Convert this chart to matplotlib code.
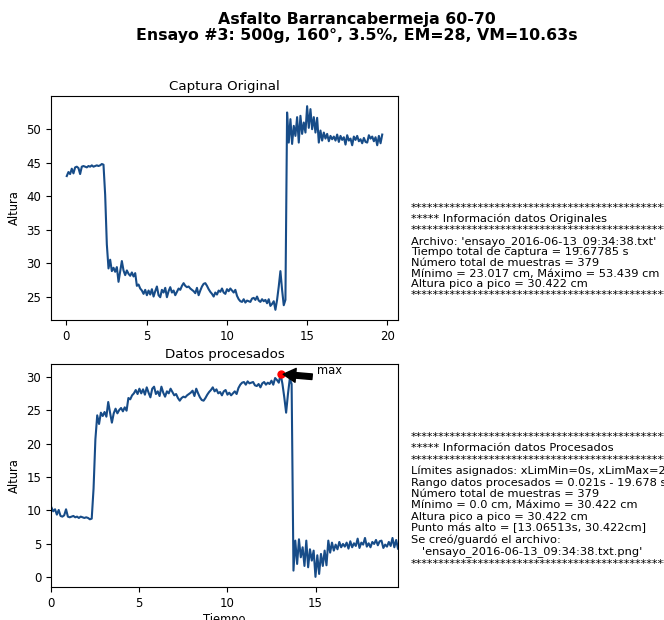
import numpy as np
import matplotlib
matplotlib.use("Agg")
import matplotlib.pyplot as plt
from matplotlib.ticker import MultipleLocator

# ---- data (original capture) ----
t_start, t_end = 0.021, 19.678
altura_original = [
    43.0, 43.6, 43.3, 44.1, 43.4, 44.3, 44.4, 44.2, 43.3, 44.4,
    44.5, 44.4, 44.3, 44.5, 44.4, 44.6, 44.4, 44.5, 44.6, 44.5,
    44.6, 44.8, 44.7, 40.2, 32.8, 29.2, 30.5, 28.8, 29.3, 28.7,
    29.4, 27.2, 28.8, 30.3, 28.9, 28.2, 28.9, 28.4, 28.1, 28.6,
    28.0, 28.5, 26.6, 26.8, 26.2, 25.9, 25.4, 26.0, 25.2, 25.9,
    25.3, 26.1, 25.0, 25.8, 26.5, 25.2, 24.9, 26.0, 25.6, 26.3,
    24.9, 25.8, 26.4, 25.6, 25.9, 25.2, 25.7, 26.2, 26.0, 26.6,
    27.0, 26.6, 26.4, 26.5, 26.2, 26.0, 25.8, 25.5, 26.3, 25.2,
    25.9, 26.5, 26.9, 27.0, 26.6, 26.1, 25.7, 25.4, 25.0, 25.6,
    25.3, 25.9, 25.7, 26.2, 25.6, 25.4, 26.1, 25.8, 26.2, 25.9,
    25.6, 26.0, 25.1, 24.6, 24.3, 24.2, 24.6, 24.1, 24.4, 24.3,
    24.2, 24.7, 24.8, 24.5, 25.0, 24.4, 24.2, 24.6, 24.3, 24.5,
    24.0, 24.6, 23.6, 23.9, 24.3, 23.017, 24.5, 26.5, 28.8, 26.0,
    23.7, 24.5, 52.5, 48.0, 51.5, 47.8, 50.5, 49.0, 51.8, 48.0,
    52.0, 49.3, 51.0, 49.5, 53.439, 50.2, 53.0, 50.0, 51.8, 49.5,
    51.7, 48.0, 49.8, 48.3, 49.5, 48.6, 49.3, 48.2, 49.0, 48.5,
    48.9, 48.3, 49.2, 48.1, 49.0, 48.4, 48.8, 47.7, 49.1, 48.3,
    48.6, 47.6, 48.9, 48.4, 49.0, 48.2, 48.5, 47.9, 48.7, 48.1,
    48.0, 49.1, 48.6, 48.9, 48.2, 48.8, 47.6, 49.0, 47.9, 49.2,
]
xlim_proc = [0, 19.678]
max_point = [13.06513, 30.422]

titulo = "Asfalto Barrancabermeja 60-70\nEnsayo #3: 500g, 160°, 3.5%, EM=28, VM=10.63s"
stars = "*" * 60
info_orig = "\n".join([
    stars,
    "***** Información datos Originales",
    stars,
    "Archivo: 'ensayo_2016-06-13_09:34:38.txt'",
    "Tiempo total de captura = 19.67785 s",
    "Número total de muestras = 379",
    "Mínimo = 23.017 cm, Máximo = 53.439 cm",
    "Altura pico a pico = 30.422 cm",
    stars,
])
info_proc = "\n".join([
    stars,
    "***** Información datos Procesados",
    stars,
    "Límites asignados: xLimMin=0s, xLimMax=20s",
    "Rango datos procesados = 0.021s - 19.678 s",
    "Número total de muestras = 379",
    "Mínimo = 0.0 cm, Máximo = 30.422 cm",
    "Altura pico a pico = 30.422 cm",
    "Punto más alto = [13.06513s, 30.422cm]",
    "Se creó/guardó el archivo:",
    "   'ensayo_2016-06-13_09:34:38.txt.png'",
    stars,
])

y_orig = np.array(altura_original)
t = np.linspace(t_start, t_end, len(y_orig))
y_proc = y_orig.max() - y_orig

line_color = "#174c88"

fig = plt.figure(figsize=(6.64, 6.2), dpi=100)
W, H = 664, 620

def ax_rect(l, t_, r, b):
    return [l / W, 1 - b / H, (r - l) / W, (b - t_) / H]

ax1 = fig.add_axes(ax_rect(51, 96, 398, 320))
ax1.plot(t, y_orig, color=line_color, lw=1.5)
ax1.set_title("Captura Original", fontsize=9.6, pad=4)
ax1.set_ylabel("Altura", fontsize=8.3)
ax1.tick_params(labelsize=8.5)
ax1.xaxis.set_major_locator(MultipleLocator(5))

ax2 = fig.add_axes(ax_rect(51, 364, 398, 587))
ax2.plot(t, y_proc, color=line_color, lw=1.5)
ax2.set_xlim(xlim_proc)
ax2.set_title("Datos procesados", fontsize=9.6, pad=4)
ax2.set_ylabel("Altura", fontsize=8.3)
ax2.set_xlabel("Tiempo", fontsize=8.3, labelpad=2)
ax2.tick_params(labelsize=8.5)
ax2.xaxis.set_major_locator(MultipleLocator(5))
ax2.plot(max_point[0], max_point[1], "o", color="red", ms=5)
ax2.annotate("max", xy=(max_point[0], max_point[1]),
             xytext=(max_point[0] + 2, max_point[1]), fontsize=8.3,
             arrowprops=dict(facecolor="black", shrink=0.05, width=4,
                             headwidth=10, headlength=9))

fig.text(357 / W, 1 - 12 / H, titulo, ha="center", va="top",
         fontsize=11.3, fontweight="bold", linespacing=1.1)

fig.text(411 / W, 1 - 203 / H, info_orig, ha="left", va="top",
         fontsize=8.2, linespacing=1.09)
fig.text(411 / W, 1 - 432 / H, info_proc, ha="left", va="top",
         fontsize=8.2, linespacing=1.16)

fig.savefig("out.png", dpi=100)
